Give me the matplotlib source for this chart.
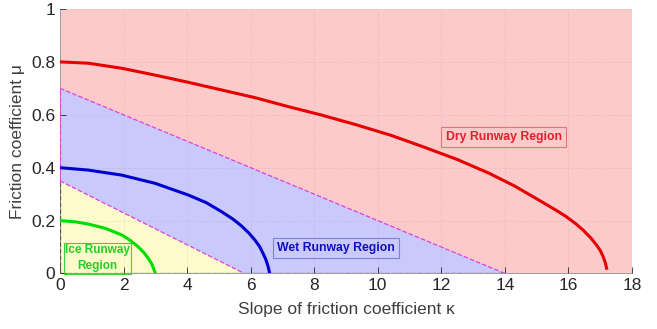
import matplotlib
matplotlib.use("Agg")
import matplotlib.pyplot as plt

plt.rcParams['font.family'] = ['Liberation Sans', 'DejaVu Sans']

# friction limit curves (kappa, mu)
dry_k = [0, 0.89, 1.94, 2.99, 4.03, 5.08, 6.13, 7.18, 8.23, 9.3, 10.4, 11.45, 12.5,
         13.5, 14.3, 15.09, 15.6, 15.93, 16.25, 16.46, 16.7, 16.88, 17.0, 17.09, 17.16, 17.2]
dry_mu = [0.80, 0.795, 0.776, 0.750, 0.723, 0.694, 0.665, 0.631, 0.599, 0.563, 0.523, 0.478, 0.431,
          0.379, 0.331, 0.276, 0.240, 0.215, 0.186, 0.164, 0.135, 0.108, 0.087, 0.064, 0.040, 0.02]

wet_k = [0, 0.89, 1.94, 2.99, 4.03, 4.6, 5.08, 5.45, 5.71, 5.95, 6.13, 6.28, 6.39, 6.48, 6.55, 6.6]
wet_mu = [0.40, 0.391, 0.372, 0.341, 0.297, 0.268, 0.234, 0.205, 0.180, 0.152, 0.127, 0.102,
          0.076, 0.052, 0.026, 0.0]

ice_k = [0, 0.5, 0.89, 1.42, 1.94, 2.2, 2.46, 2.64, 2.78, 2.88, 2.94, 2.98, 3.0]
ice_mu = [0.20, 0.195, 0.187, 0.171, 0.146, 0.126, 0.101, 0.079, 0.057, 0.038, 0.02, 0.008, 0.0]

# region boundaries
wet_bound_k = [0, 0, 14]
wet_bound_mu = [0, 0.7, 0]
ice_bound_k = [0, 0, 5.8]
ice_bound_mu = [0, 0.35, 0]

xticks = [0, 2, 4, 6, 8, 10, 12, 14, 16, 18]
yticks = [0, 0.2, 0.4, 0.6, 0.8, 1]

fig = plt.figure(figsize=(6.57, 3.29), dpi=100)
ax = fig.add_axes([0.0913, 0.1687, 0.8707, 0.804])

ax.axvspan(0, 18, color='#fccaca', zorder=0)
ax.fill(wet_bound_k, wet_bound_mu, color='#c9c9fb', zorder=1, lw=0)
ax.fill(ice_bound_k, ice_bound_mu, color='#fdfbcb', zorder=2, lw=0)

# dashed edges of the regions
ax.plot(wet_bound_k[1:], wet_bound_mu[1:], '--', color='#e040e0', lw=0.9, zorder=3)
ax.plot(ice_bound_k[1:], ice_bound_mu[1:], '--', color='#e040e0', lw=0.9, zorder=3)
ax.plot([0, 0], [0.35, 0.7], '--', color='#e040e0', lw=0.9, zorder=3)
ax.plot([0, 0], [0, 0.35], '--', color='#555555', lw=0.9, zorder=3)
ax.plot([0, 14], [0, 0], '--', color='#555555', lw=0.9, zorder=3)

ax.plot(dry_k, dry_mu, color='#e60000', lw=2.2, zorder=4, solid_joinstyle='round')
ax.plot(wet_k, wet_mu, color='#0000d0', lw=2.2, zorder=4, solid_joinstyle='round')
ax.plot(ice_k, ice_mu, color='#00dd00', lw=2.2, zorder=4, solid_joinstyle='round')

ax.text(13.96, 0.516, 'Dry Runway Region', color='#e0202a', fontsize=8.8,
        fontweight='bold', ha='center', va='center', zorder=5,
        bbox=dict(boxstyle='square,pad=0.35', fc='none', ec='#ee7070', lw=0.8))
ax.text(8.68, 0.096, 'Wet Runway Region', color='#1010c0', fontsize=8.8,
        fontweight='bold', ha='center', va='center', zorder=5,
        bbox=dict(boxstyle='square,pad=0.35', fc='none', ec='#8080e0', lw=0.8))
ax.text(1.18, 0.058, 'Ice Runway\nRegion', color='#22d022', fontsize=8.5,
        fontweight='bold', ha='center', va='center', linespacing=1.5, zorder=5,
        bbox=dict(boxstyle='square,pad=0.1', fc='none', ec='#40d040', lw=0.8))

ax.set_xlim(0, 18)
ax.set_ylim(0, 1)
ax.set_xticks(xticks)
ax.set_yticks(yticks)
ax.set_yticklabels(['0', '0.2', '0.4', '0.6', '0.8', '1'])
ax.grid(True, ls='--', color='#b0a0a0', alpha=0.2, lw=0.7, zorder=2.5)
ax.set_axisbelow(False)
ax.tick_params(direction='in', colors='#262626', labelsize=12.5, length=4, width=0.6)
for s in ['top', 'right']:
    ax.spines[s].set_visible(False)
for s in ['left', 'bottom']:
    ax.spines[s].set_color('#999999')
    ax.spines[s].set_linewidth(0.7)

ax.set_xlabel('Slope of friction coefficient κ', fontsize=12.5, color='#404040', labelpad=6)
ax.set_ylabel('Friction coefficient μ', fontsize=12.5, color='#404040', labelpad=4)

fig.savefig('out.png', dpi=100)
